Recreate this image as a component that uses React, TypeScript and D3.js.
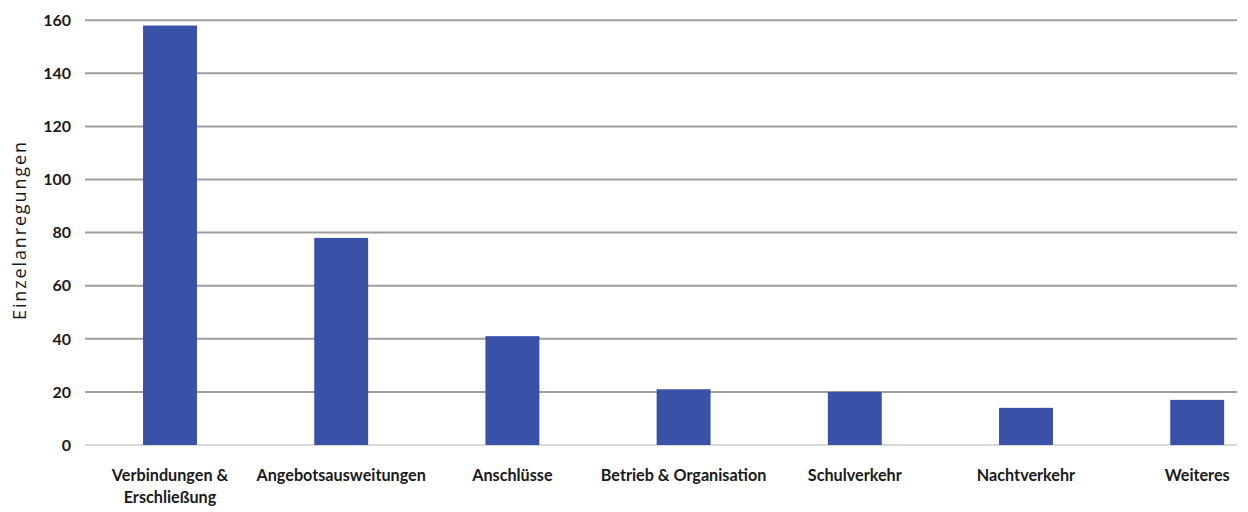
import React from "react";
import * as d3 from "d3";

const categories: string[][] = [
  ["Verbindungen &", "Erschließung"],
  ["Angebotsausweitungen"],
  ["Anschlüsse"],
  ["Betrieb & Organisation"],
  ["Schulverkehr"],
  ["Nachtverkehr"],
  ["Weiteres"],
];
const values: number[] = [158, 78, 41, 21, 20, 14, 17];
const yTicks: number[] = [0, 20, 40, 60, 80, 100, 120, 140, 160];
const yLabel = "Einzelanregungen";

const W = 1248;
const H = 512;

export default function App() {
  const keys = categories.map((c) => c.join(" "));
  const x = d3
    .scaleBand<string>()
    .domain(keys)
    .range([84.4, 1282.8])
    .paddingInner(0.685)
    .paddingOuter(0.3425);
  const y = d3.scaleLinear().domain([0, 160]).range([445, 20.2]);
  const gridX0 = 85;
  const gridX1 = 1237;
  const font = "Lato, 'Open Sans', sans-serif";

  return (
    <svg
      width={W}
      height={H}
      style={{ position: "absolute", left: 0, top: 0, display: "block", background: "#fff" }}
    >
      {yTicks.map((t) => (
        <g key={t}>
          <line
            x1={gridX0}
            x2={gridX1}
            y1={y(t)}
            y2={y(t)}
            stroke={t === 0 ? "#d9d9d9" : "#9e9e9e"}
            strokeWidth={2}
          />
          <text
            x={71}
            y={y(t)}
            dy="0.36em"
            textAnchor="end"
            fontFamily={font}
            fontWeight={700}
            fontSize={16}
            fill="#1a1a1a"
          >
            {t}
          </text>
        </g>
      ))}
      {values.map((v, i) => (
        <rect
          key={keys[i]}
          x={x(keys[i])}
          width={x.bandwidth()}
          y={y(v)}
          height={y(0) - y(v)}
          fill="#3a51a8"
        />
      ))}
      {categories.map((lines, i) => (
        <text
          key={keys[i]}
          x={(x(keys[i]) as number) + x.bandwidth() / 2}
          y={481}
          textAnchor="middle"
          fontFamily={font}
          fontWeight={700}
          fontSize={16.2}
          fill="#1a1a1a"
        >
          {lines.map((l, j) => (
            <tspan key={j} x={(x(keys[i]) as number) + x.bandwidth() / 2} dy={j === 0 ? 0 : 22}>
              {l}
            </tspan>
          ))}
        </text>
      ))}
      <text
        transform={`translate(26,${231}) rotate(-90)`}
        textAnchor="middle"
        fontFamily="'Open Sans', sans-serif"
        fontSize={18}
        textLength={178}
        lengthAdjust="spacing"
        fill="#1a1a1a"
      >
        {yLabel}
      </text>
    </svg>
  );
}
